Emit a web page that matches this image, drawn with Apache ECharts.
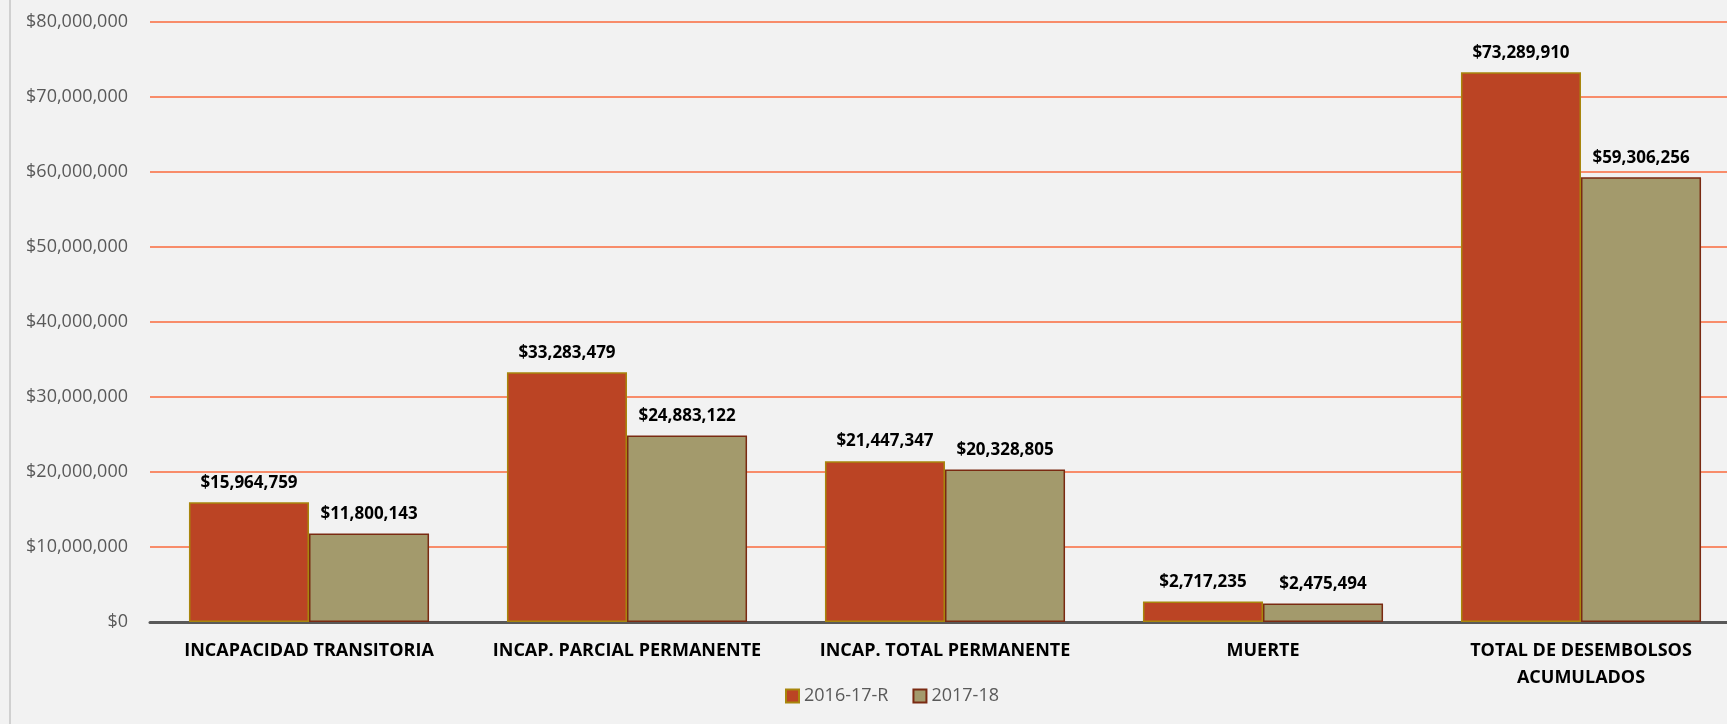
<!DOCTYPE html>
<html>
<head>
<meta charset="utf-8">
<script src="https://cdn.jsdelivr.net/npm/echarts@6/dist/echarts.min.js"></script>
<style>
  html, body { margin: 0; padding: 0; background: #f2f2f2; overflow: hidden; }
  #wrap { position: absolute; left: 0; top: 0; width: 1727px; height: 724px; overflow: hidden; }
  /* el área del gráfico sale un poco del lienzo, como en el original */
  #chart { position: absolute; left: 0; top: 0; width: 1742px; height: 724px; }
  #edge { position: absolute; left: 9px; top: 0; width: 2px; height: 724px; background: #d0d0d0; z-index: 2; }
</style>
</head>
<body>
<div id="wrap">
  <div id="chart"></div>
  <div id="edge"></div>
</div>
<script>
// categorías del eje X
const categories = [
  'INCAPACIDAD TRANSITORIA',
  'INCAP. PARCIAL PERMANENTE',
  'INCAP. TOTAL PERMANENTE',
  'MUERTE',
  'TOTAL DE DESEMBOLSOS\nACUMULADOS',
]
const seriesNames = ['2016-17-R', '2017-18']
const values2016 = [15964759, 33283479, 21447347, 2717235, 73289910]
const values2017 = [11800143, 24883122, 20328805, 2475494, 59306256]

const money = (v) => '$' + Number(v).toLocaleString('en-US')

const labelStyle = {
  show: true,
  position: 'top',
  distance: 11,
  color: '#000',
  fontWeight: 'bold',
  fontSize: 17,
  fontFamily: 'Open Sans',
  formatter: (p) => money(p.value),
}

const myChart = echarts.init(document.getElementById('chart'))
const option = {
  backgroundColor: '#f2f2f2',
  animation: false,
  grid: {
    left: 150,
    right: 2,
    top: 22,
    bottom: 102,
  },
  legend: {
    data: seriesNames,
    left: 780,
    top: 682,
    icon: 'rect',
    itemWidth: 13,
    itemHeight: 13,
    itemGap: 24,
    textStyle: {
      color: '#595959',
      fontSize: 18,
      fontFamily: 'Open Sans',
    },
  },
  xAxis: {
    type: 'category',
    data: categories,
    axisLine: { lineStyle: { color: '#595959', width: 3 } },
    axisTick: { show: false },
    axisLabel: {
      color: '#000',
      fontWeight: 'bold',
      fontSize: 18,
      fontFamily: 'Open Sans',
      margin: 15,
      lineHeight: 27,
      interval: 0,
    },
  },
  yAxis: {
    type: 'value',
    min: 0,
    max: 80000000,
    interval: 10000000,
    axisLine: { show: false },
    axisTick: { show: false },
    axisLabel: {
      color: '#595959',
      fontSize: 18,
      fontFamily: 'Open Sans',
      margin: 22,
      formatter: money,
    },
    splitLine: { lineStyle: { color: '#fa6a3c', width: 1.5 } },
  },
  series: [
    {
      name: seriesNames[0],
      type: 'bar',
      data: values2016,
      barGap: '0%',
      barCategoryGap: '24.5%',
      itemStyle: { color: '#bb4424', borderColor: '#a8860c', borderWidth: 1.5 },
      label: labelStyle,
    },
    {
      name: seriesNames[1],
      type: 'bar',
      data: values2017,
      itemStyle: { color: '#a39a6c', borderColor: '#7a2a12', borderWidth: 1.5 },
      label: labelStyle,
    },
  ],
}
myChart.setOption(option)
</script>
</body>
</html>
